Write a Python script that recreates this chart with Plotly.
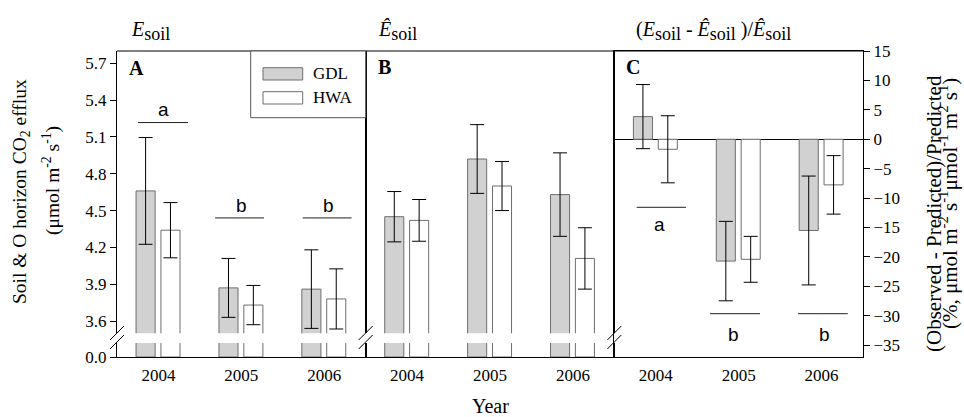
import plotly.graph_objects as go

# ---------------- data ----------------
years = ["2004", "2005", "2006"]
groups = ["GDL", "HWA"]

# Panel A: observed soil & O horizon CO2 efflux (umol m-2 s-1)
obs_gdl = [4.66, 3.87, 3.86]
obs_gdl_se = [0.435, 0.24, 0.32]
obs_hwa = [4.34, 3.73, 3.78]
obs_hwa_se = [0.225, 0.16, 0.245]

# Panel B: predicted efflux
pred_gdl = [4.45, 4.92, 4.63]
pred_gdl_se = [0.205, 0.28, 0.34]
pred_hwa = [4.42, 4.70, 4.11]
pred_hwa_se = [0.17, 0.20, 0.25]

# Panel C: (observed - predicted)/predicted, %
diff_gdl = [3.85, -20.7, -15.5]
diff_gdl_se = [5.45, 6.75, 9.25]
diff_hwa = [-1.7, -20.4, -7.75]
diff_hwa_se = [5.7, 3.9, 4.97]

# significance letters
letters_obs = ["a", "b", "b"]
letters_diff = ["a", "b", "b"]

left_ticks = [3.6, 3.9, 4.2, 4.5, 4.8, 5.1, 5.4, 5.7]
right_ticks = [15, 10, 5, 0, -5, -10, -15, -20, -25, -30, -35]

# ---------------- layout geometry ----------------
FW, FH = 964, 417
L, T, W, H = 117, 51, 746, 306   # plot area in pixels
MR = FW - L - W
MB = FH - T - H


def X(p):
    return (p - L) / W


def Y(p):
    return (T + H - p) / H


UP = [Y(333.3), 1.0]
LO = [0.0, Y(343.0)]

SERIF = "Liberation Serif, Times New Roman, Times, DejaVu Serif, serif"
SANS = "Liberation Sans, Arial, Helvetica, DejaVu Sans, sans-serif"
GDL_FILL = "#d1d1d1"
HWA_FILL = "#ffffff"
EDGE = "#6e6e6e"
BAR_W = 0.23
OFF = {"GDL": -0.27, "HWA": 0.03}
FILL = {"GDL": GDL_FILL, "HWA": HWA_FILL}

fig = go.Figure()


def add_bar(name, vals, se, xa, ya):
    kw = {}
    if se is not None:
        kw["error_y"] = dict(type="data", array=se, color="black",
                             thickness=1, width=7)
    fig.add_trace(go.Bar(
        x=years, y=vals, name=name, width=BAR_W, offset=OFF[name],
        marker=dict(color=FILL[name], line=dict(color=EDGE, width=1)),
        xaxis=xa, yaxis=ya, showlegend=False, hoverinfo="skip", **kw))


# panel A (upper and lower segment of broken axis)
add_bar("GDL", obs_gdl, obs_gdl_se, "x", "y")
add_bar("HWA", obs_hwa, obs_hwa_se, "x", "y")
add_bar("GDL", obs_gdl, None, "x", "y2")
add_bar("HWA", obs_hwa, None, "x", "y2")
# panel B
add_bar("GDL", pred_gdl, pred_gdl_se, "x2", "y3")
add_bar("HWA", pred_hwa, pred_hwa_se, "x2", "y3")
add_bar("GDL", pred_gdl, None, "x2", "y4")
add_bar("HWA", pred_hwa, None, "x2", "y4")
# panel C
add_bar("GDL", diff_gdl, diff_gdl_se, "x3", "y5")
add_bar("HWA", diff_hwa, diff_hwa_se, "x3", "y5")

line_kw = dict(showline=True, linecolor="black", linewidth=1, showgrid=False,
               zeroline=False)
tickf = dict(family=SERIF, size=17, color="black")
xcommon = dict(type="category", range=[-0.5, 2.5], ticks="",
               tickfont=tickf, ticklabelstandoff=3, **line_kw)

fig.update_layout(
    width=FW, height=FH,
    margin=dict(l=L, r=MR, t=T, b=MB, pad=0),
    paper_bgcolor="white", plot_bgcolor="white",
    barmode="overlay",
    showlegend=False,
    font=dict(family=SERIF, size=17, color="black"),
    xaxis=dict(domain=[0, 1 / 3], anchor="y2", **xcommon),
    xaxis2=dict(domain=[1 / 3, 2 / 3], anchor="y4", **xcommon),
    xaxis3=dict(domain=[2 / 3, 1], anchor="y5", mirror=True, **xcommon),
    yaxis=dict(domain=UP, anchor="x", range=[3.5, 5.8], tickvals=left_ticks,
               tickformat=".1f", ticks="outside", ticklen=6, tickcolor="black",
               mirror=True, tickfont=tickf, **line_kw),
    yaxis2=dict(domain=LO, anchor="x", range=[0, 0.1], tickvals=[0],
                ticktext=["0.0"], ticks="outside", ticklen=6,
                tickcolor="black", mirror=True, tickfont=tickf, **line_kw),
    yaxis3=dict(domain=UP, anchor="x2", range=[3.5, 5.8], showticklabels=False,
                ticks="", mirror=True, **line_kw),
    yaxis4=dict(domain=LO, anchor="x2", range=[0, 0.1], showticklabels=False,
                ticks="", mirror=True, **line_kw),
    yaxis5=dict(domain=[0, 1], anchor="x3", side="right", range=[-37, 15],
                tickvals=right_ticks, ticks="outside", ticklen=6,
                tickcolor="black", mirror=True, tickfont=tickf,
                showline=True, linecolor="black", linewidth=1, showgrid=False,
                zeroline=True, zerolinecolor="black", zerolinewidth=1),
)

shapes = []
# top frame line over panels A and B
shapes.append(dict(type="line", xref="paper", yref="paper", x0=0, x1=1,
                   y0=1, y1=1, line=dict(color="black", width=1)))
# axis-break marks
for xp in (L, L + W / 3, L + 2 * W / 3):
    for (ya, yb) in ((340, 326), (349, 335)):
        shapes.append(dict(type="line", xref="paper", yref="paper",
                           x0=X(xp - 7), x1=X(xp + 7), y0=Y(ya), y1=Y(yb),
                           line=dict(color="black", width=1)))

# significance lines (panel A, panel C)
sig_a_lines = [(-0.246, 0.357, 5.217), (0.683, 1.274, 4.44),
               (1.74, 2.33, 4.44)]
sig_a_text = [(0.06, 5.322), (1.0, 4.545), (2.055, 4.545)]
sig_c_lines = [(-0.23, 0.365, -11.56), (0.655, 1.258, -29.64),
               (1.717, 2.316, -29.64)]
sig_c_text = [(0.05, -14.4), (0.936, -33.1), (2.04, -33.1)]

for (x0, x1, yv) in sig_a_lines:
    shapes.append(dict(type="line", xref="x", yref="y", x0=x0, x1=x1,
                       y0=yv, y1=yv, line=dict(color="#222222", width=1)))
for (x0, x1, yv) in sig_c_lines:
    shapes.append(dict(type="line", xref="x3", yref="y5", x0=x0, x1=x1,
                       y0=yv, y1=yv, line=dict(color="#222222", width=1)))

# legend box and swatches
shapes.append(dict(type="rect", xref="paper", yref="paper",
                   x0=X(250.7), x1=X(365.7), y0=Y(117.7), y1=Y(51),
                   line=dict(color="#555555", width=1), fillcolor="white"))
shapes.append(dict(type="rect", xref="paper", yref="paper",
                   x0=X(263), x1=X(302.7), y0=Y(80), y1=Y(67.7),
                   line=dict(color=EDGE, width=1), fillcolor=GDL_FILL))
shapes.append(dict(type="rect", xref="paper", yref="paper",
                   x0=X(263), x1=X(302.7), y0=Y(104), y1=Y(91.7),
                   line=dict(color=EDGE, width=1), fillcolor=HWA_FILL))

ann = []


def add_text(text, x, y, size=17, family=SERIF, xanchor="center",
             yanchor="middle", angle=0, xref="paper", yref="paper"):
    ann.append(dict(text=text, x=x, y=y, xref=xref, yref=yref,
                    xanchor=xanchor, yanchor=yanchor, showarrow=False,
                    textangle=angle,
                    font=dict(family=family, size=size, color="black")))


for lt, (xv, yv) in zip(letters_obs, sig_a_text):
    add_text(lt, xv, yv, size=19, family=SANS, xref="x", yref="y")
for lt, (xv, yv) in zip(letters_diff, sig_c_text):
    add_text(lt, xv, yv, size=19, family=SANS, xref="x3", yref="y5")

# legend labels
add_text(groups[0], X(311), Y(74), xanchor="left")
add_text(groups[1], X(311), Y(97.5), xanchor="left")

# panel letters
add_text("<b>A</b>", X(127), Y(68), size=20, xanchor="left")
add_text("<b>B</b>", X(376), Y(67), size=20, xanchor="left")
add_text("<b>C</b>", X(624), Y(67), size=20, xanchor="left")

# panel titles
sub = "<sub><span style='font-size:18px'>soil</span></sub>"
add_text("<i>E</i>" + sub, X(129), Y(31), size=20, xanchor="left")
add_text("<i>Ê</i>" + sub, X(376), Y(31), size=20, xanchor="left")
add_text("(<i>E</i>" + sub + " - <i>Ê</i>" + sub + " )/<i>Ê</i>" + sub,
         X(634), Y(31), size=20, xanchor="left")

# axis titles
add_text("Soil &amp; O horizon CO<sub>2</sub> efflux", X(21), Y(192),
         size=19.5, angle=-90)
add_text("(μmol m<sup>-2</sup> s<sup>-1</sup>)", X(51), Y(181),
         size=19.5, angle=-90)
add_text("(Observed - Predicted)/Predicted", X(934), Y(214), size=21,
         angle=-90)
add_text("(%, μmol m<sup>-2</sup> s<sup>-1</sup>μmol<sup>-1</sup> m<sup>2</sup>"
         " s<sup>1</sup>)", X(948), Y(204), size=21, angle=-90)
add_text("Year", X(490), Y(406), size=20)

fig.update_layout(shapes=shapes, annotations=ann)

# the page body has a default 8px margin; remove it so the figure fills the
# 964x417 window exactly
fig.write_html(
    "out.html",
    config={"displayModeBar": False},
    post_script="document.body.style.margin='0';"
                "document.body.style.overflow='hidden';")
